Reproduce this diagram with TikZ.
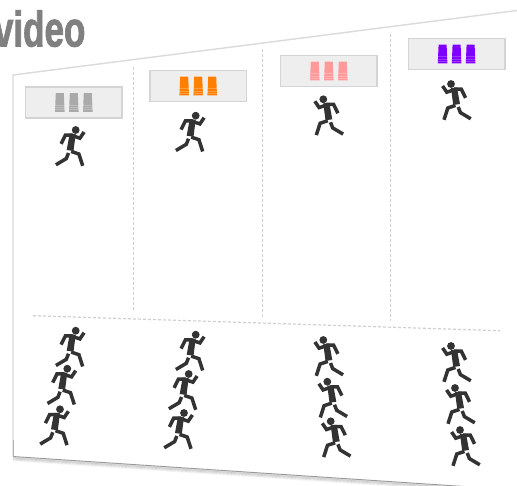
\documentclass[tikz,border=0pt]{standalone}
\usepackage{fontspec}
\setmainfont{Liberation Sans}
\definecolor{ink}{HTML}{333333}
\definecolor{frameline}{HTML}{DADADA}
\definecolor{dashline}{HTML}{D0D0D0}
\definecolor{boxfill}{HTML}{EEEEEE}
\definecolor{boxline}{HTML}{D4D4D4}
\definecolor{cupgrey}{HTML}{AAAAAA}
\definecolor{cuporange}{HTML}{FF8000}
\definecolor{cuppink}{HTML}{FF9A9A}
\definecolor{cuppurple}{HTML}{8000FF}
\tikzset{
  limb/.style={draw=ink,line width=3.5pt,line cap=butt,line join=miter},
  runner/.pic={
    \fill[ink] (0,0) circle (3.9);
    \draw[limb] (-3,5.2) -- (-10.3,5.2) -- (-14.6,13.9);
    \draw[limb] (-3,5.8) -- (4.2,8.2) -- (8.4,2);
    \fill[ink] (-6,3.5) -- (0,4) -- (-2.2,21) -- (-9,20) -- cycle;
    \draw[limb] (-4.5,21.4) -- (3.2,24) -- (7,35.8);
    \draw[limb] (-7.2,23) -- (-9.4,28.6) -- (-19.8,34.8);
  },
  cupstack/.pic={
    \foreach \dx in {-14,0,14}{
      \fill[cupcol] (\dx-4,-9.3) -- (\dx+4,-9.3) -- (\dx+4.8,9.4) -- (\dx-4.8,9.4) -- cycle;
      \foreach \dy in {2.6,5,7.2}
        \draw[white,opacity=.22,line width=.5pt] (\dx-5,\dy) -- (\dx+5,\dy);
    }
  },
  titlebox/.style={draw=boxline,fill=boxfill,line width=1.5pt,minimum width=96.5pt,minimum height=31pt,inner sep=0pt},
  guide/.style={draw=dashline,line width=1.2pt,dash pattern=on 3pt off 2pt},
  panel/.style={draw=frameline,line width=1.4pt},
}
\begin{document}
\begin{tikzpicture}[x=1pt,y=-1pt]
\useasboundingbox (0,0) rectangle (517,486);
\clip (0,0) rectangle (517,486);
% title
\node[anchor=base east,inner sep=0pt,text=black!50,font=\addfontfeature{FakeBold=2}\bfseries\fontsize{50}{50}\selectfont,xscale=.70] (title) at (85.5,46.5) {video};
% panel
\draw[panel] (13,456.5) -- (13,75) -- (517,10.5);
\foreach \o/\a in {1/.12,2/.10,3/.07,4/.04}
  \draw[black,opacity=\a,line width=1.6pt] (13,456.5+\o) -- (517,490+\o);
\draw[black!40,line width=.9pt] (13,456.5) -- (517,490);
\draw[black!30,line width=.7pt] (13,440) -- (13,456.5);
% guides
\coordinate (v1a) at (133.7,67); \coordinate (v1b) at (133.7,312);
\coordinate (v2a) at (262.7,49); \coordinate (v2b) at (262.7,318);
\coordinate (v3a) at (390.5,34); \coordinate (v3b) at (390.5,321);
\coordinate (ha) at (33,315.7); \coordinate (hb) at (500,330.7);
\draw[guide] (v1a) -- (v1b);
\draw[guide] (v2a) -- (v2b);
\draw[guide] (v3a) -- (v3b);
\draw[guide] (ha) -- (hb);
% boxes and cups
\node[titlebox] (b1) at (73.8,102.5) {};
\node[titlebox] (b2) at (198.2,86) {};
\node[titlebox] (b3) at (328.8,71) {};
\node[titlebox] (b4) at (456.6,54) {};
\colorlet{cupcol}{cupgrey}\pic at (b1) {cupstack};
\colorlet{cupcol}{cuporange}\pic at (b2) {cupstack};
\colorlet{cupcol}{cuppink}\pic at (b3) {cupstack};
\colorlet{cupcol}{cuppurple}\pic at (b4) {cupstack};
% runners facing right
\foreach \x/\y in {75.7/130, 195.7/115.7, 75.7/330.7, 67.3/368.7, 60/409.3, 195.7/334.7, 188.7/374, 184/413}
  \pic at (\x,\y) {runner};
% runners facing left
\foreach \x/\y in {323.3/99.3, 451/84, 323.3/340, 327.3/381.7, 330.7/421.3, 451/346, 455/388, 460/430}
  \pic[xscale=-1] at (\x,\y) {runner};
\end{tikzpicture}
\end{document}
